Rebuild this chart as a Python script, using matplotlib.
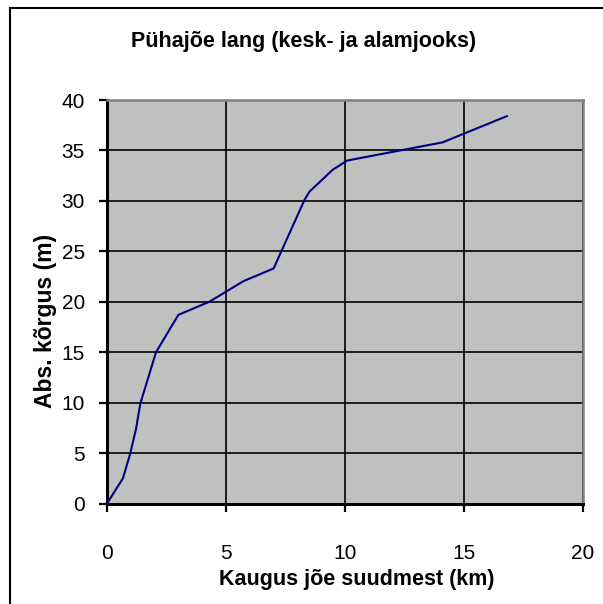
# ===================================================================================
# Pühajõe lang - river profile plot (distance from mouth vs absolute height)
# ===================================================================================
import matplotlib
matplotlib.use("Agg")
import matplotlib.pyplot as plt
from matplotlib.lines import Line2D
# ===================================================================================
# Data
kaugus_km = [0.0, 0.67, 0.97, 1.22, 1.40, 2.06, 3.0, 4.3, 5.74, 7.0, 8.3, 8.5, 9.49, 10.1, 14.1, 16.8]
korgus_m = [0.0, 2.5, 4.9, 7.4, 9.9, 15.0, 18.7, 20.0, 22.05, 23.3, 30.1, 30.9, 33.1, 34.0, 35.8, 38.4]
x_ticks = [0, 5, 10, 15, 20]
y_ticks = [0, 5, 10, 15, 20, 25, 30, 35, 40]
title_text = "Pühajõe lang (kesk- ja alamjooks)"
x_label_text = "Kaugus jõe suudmest (km)"
y_label_text = "Abs. kõrgus (m)"
# ===================================================================================
plt.rcParams['font.family'] = ['Liberation Sans', 'DejaVu Sans']

fig = plt.figure(figsize=(6.03, 6.04), dpi=100)
fig.patch.set_facecolor('white')
# Plot area position in figure fractions
ax = fig.add_axes([107 / 603, 1 - 503.5 / 604, (583 - 107) / 603, (503.5 - 100) / 604])
ax.set_facecolor('#C0C0C0')

ax.plot(kaugus_km, korgus_m, color='#000080', linewidth=1.5, zorder=3)

ax.set_xlim(0, 20)
ax.set_ylim(0, 40)
ax.set_xticks(x_ticks)
ax.set_yticks(y_ticks)
ax.grid(True, color='black', linewidth=1.2, zorder=1)
ax.set_axisbelow(True)

# Spines: black left/bottom, gray top/right like Excel
for side in ['left', 'bottom']:
    ax.spines[side].set_color('black')
    ax.spines[side].set_linewidth(2.2)
for side in ['top', 'right']:
    ax.spines[side].set_color('#808080')
    ax.spines[side].set_linewidth(1.8)

ax.tick_params(axis='x', direction='out', length=6, width=1.6, pad=23, labelsize=15)
ax.tick_params(axis='y', direction='out', length=6, width=1.6, pad=10, labelsize=15)

# Titles as figure text
fig.text(304 / 603, 1 - 42 / 604, title_text, ha='center', va='center', fontsize=15.5, fontweight='bold')
fig.text(357 / 603, 1 - 579 / 604, x_label_text, ha='center', va='center', fontsize=15.5, fontweight='bold')
fig.text(46 / 603, 1 - 321 / 604, y_label_text, ha='center', va='center', rotation=90, fontsize=16.5, fontweight='bold')

# Chart frame (left and top edges only are visible)
fig.add_artist(Line2D([10 / 603, 10 / 603], [0, 1 - 8 / 604], color='black', linewidth=1.5))
fig.add_artist(Line2D([10 / 603, 1], [1 - 8 / 604, 1 - 8 / 604], color='black', linewidth=1.5))

fig.savefig("out.png", dpi=100)
